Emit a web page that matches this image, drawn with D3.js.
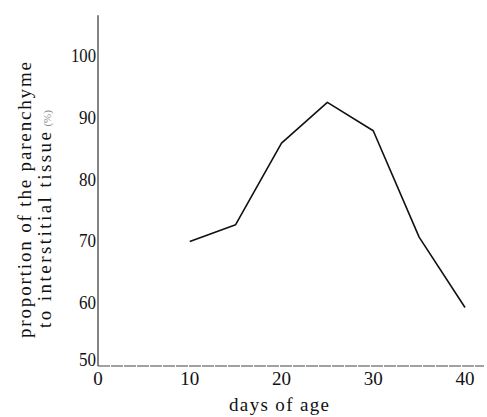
<!DOCTYPE html>
<html>
<head>
<meta charset="utf-8">
<script src="https://cdn.jsdelivr.net/npm/d3@7"></script>
<style>
  body { margin: 0; background: #fff; }
  svg { display: block; }
  text { font-family: "Liberation Serif", "Times New Roman", serif; fill: #111; }
</style>
</head>
<body>
<div class="chart"></div>
<script>
var days = [10, 15, 20, 25, 30, 35, 40];
var proportion = [70.0, 72.7, 85.9, 92.5, 87.9, 70.7, 59.3];
var xTicks = [0, 10, 20, 30, 40];
var yTicks = [50, 60, 70, 80, 90, 100];

var width = 487, height = 417;

var svg = d3.select('.chart')
  .append('svg')
  .attr('width', width)
  .attr('height', height);

// scales fitted to the scanned figure
var xScale = d3.scaleLinear()
  .domain([0, 40])
  .range([98, 465]);
var yScale = d3.scaleLinear()
  .domain([50, 100])
  .range([365, 56]);

// axes lines
svg.append('line')
  .attr('x1', xScale(0)).attr('x2', xScale(0))
  .attr('y1', yScale(106.6)).attr('y2', yScale(50) + 1)
  .style('stroke', '#333')
  .style('stroke-width', 1.2);

svg.append('line')
  .attr('x1', xScale(0)).attr('x2', 484)
  .attr('y1', yScale(50) + 1).attr('y2', yScale(50) + 1)
  .style('stroke', '#444')
  .style('stroke-width', 1.2)
  .style('stroke-dasharray', '12,1');

// y tick labels (the 50 sits a little higher, clear of the x labels)
svg.selectAll('.ylab')
  .data(yTicks)
  .enter()
  .append('text')
  .attr('class', 'ylab')
  .attr('x', xScale(0) - 2)
  .attr('y', d => yScale(d) + (d === 50 ? 1 : 6))
  .style('text-anchor', 'end')
  .style('font-size', '19px')
  .attr('textLength', d => d === 100 ? 25 : 17)
  .attr('lengthAdjust', 'spacingAndGlyphs')
  .text(d => d);

// x tick labels
svg.selectAll('.xlab')
  .data(xTicks)
  .enter()
  .append('text')
  .attr('class', 'xlab')
  .attr('x', d => xScale(d))
  .attr('y', 385)
  .style('text-anchor', 'middle')
  .style('font-size', '19px')
  .text(d => d);

// axis titles
svg.append('text')
  .attr('transform', 'translate(279, 411)')
  .style('text-anchor', 'middle')
  .style('font-size', '19px')
  .attr('textLength', 100)
  .text('days of age');

svg.append('text')
  .attr('transform', 'translate(31, 200) rotate(-90)')
  .style('text-anchor', 'middle')
  .style('font-size', '19px')
  .attr('textLength', 276)
  .attr('lengthAdjust', 'spacing')
  .text('proportion of the parenchyme');

var t2 = svg.append('text')
  .attr('transform', 'translate(51, 328) rotate(-90)')
  .style('text-anchor', 'start')
  .style('font-size', '19px');
t2.append('tspan')
  .attr('textLength', 196)
  .attr('lengthAdjust', 'spacing')
  .text('to interstitial tissue');
t2.append('tspan')
  .attr('dx', 3)
  .style('font-size', '11px')
  .style('fill', '#888')
  .text('(%)');

// data line
var line = d3.line()
  .x((d, i) => xScale(days[i]))
  .y(d => yScale(d));

svg.append('path')
  .datum(proportion)
  .attr('d', line)
  .style('fill', 'none')
  .style('stroke', '#111')
  .style('stroke-width', 1.6)
  .style('stroke-linejoin', 'round');
</script>
</body>
</html>
